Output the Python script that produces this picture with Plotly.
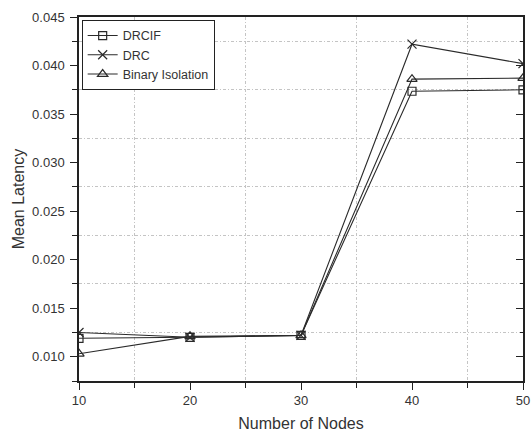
import plotly.graph_objects as go

# Mean latency versus network size for the three schemes
nodes = [10, 20, 30, 40, 50]
drcif = [0.0119, 0.0120, 0.0122, 0.03735, 0.0375]
drc = [0.0125, 0.0120, 0.0122, 0.0422, 0.0402]
binary_isolation = [0.0103, 0.0121, 0.0122, 0.0386, 0.0387]

series = [
    ("DRCIF", drcif, "square-open", 8),
    ("DRC", drc, "x-thin-open", 9),
    ("Binary Isolation", binary_isolation, "triangle-up-open", 9),
]

ink = "#2a2a2a"
frame = "#222222"
grid = "#c4c4c4"
grid_dash = "3px,2px,1px,2px"
font_family = "Liberation Sans, Arial, sans-serif"

fig = go.Figure()
for name, values, symbol, size in series:
    fig.add_trace(go.Scatter(
        x=nodes, y=values, name=name, mode="lines+markers",
        line=dict(color=ink, width=1.1),
        marker=dict(symbol=symbol, size=size, color=ink,
                    line=dict(color=ink, width=1.2)),
    ))

# Inward-pointing ticks on the right-hand frame
fig.add_trace(go.Scatter(x=[None], y=[None], yaxis="y2", showlegend=False,
                         hoverinfo="skip"))

fig.update_layout(
    width=531, height=432,
    margin=dict(l=79, r=8, t=17, b=51),
    plot_bgcolor="white", paper_bgcolor="white",
    font=dict(family=font_family, size=13, color="#333333"),
    showlegend=True,
    legend=dict(
        x=0.006, y=0.992, xanchor="left", yanchor="top",
        bordercolor=frame, borderwidth=1, bgcolor="white",
        font=dict(size=12.5, color="#333333"),
        itemwidth=30, tracegroupgap=0,
    ),
    xaxis=dict(
        range=[10, 50], tick0=10, dtick=10, automargin=False,
        showgrid=False, zeroline=False,
        showline=True, linecolor=frame, linewidth=1.5, mirror=True,
        ticks="outside", ticklen=7, tickwidth=1, tickcolor=frame,
        minor=dict(dtick=5, ticks="outside", ticklen=5, tickcolor=frame,
                   showgrid=True, gridcolor=grid, griddash=grid_dash,
                   gridwidth=1),
        title=dict(text="Number of Nodes", font=dict(size=16), standoff=10),
        tickfont=dict(size=13),
    ),
    yaxis=dict(
        range=[0.0075, 0.045], tick0=0.010, dtick=0.005, tickformat=".3f",
        automargin=False,
        showgrid=False, zeroline=False,
        showline=True, linecolor=frame, linewidth=1.5, mirror=True,
        ticks="outside", ticklen=7, tickwidth=1, tickcolor=frame,
        ticklabelstandoff=3,
        minor=dict(dtick=0.0025, ticks="outside", ticklen=5,
                   tickcolor=frame,
                   showgrid=True, gridcolor=grid, griddash=grid_dash,
                   gridwidth=1),
        title=dict(text="Mean Latency", font=dict(size=16), standoff=4),
        tickfont=dict(size=13),
    ),
    yaxis2=dict(
        overlaying="y", side="right", matches="y",
        range=[0.0075, 0.045], tick0=0.010, dtick=0.005,
        showticklabels=False, showgrid=False, zeroline=False,
        ticks="inside", ticklen=7, tickcolor=frame,
        minor=dict(dtick=0.0025, ticks="inside", ticklen=3,
                   tickcolor=frame),
    ),
)

fig.write_html("out.html")
